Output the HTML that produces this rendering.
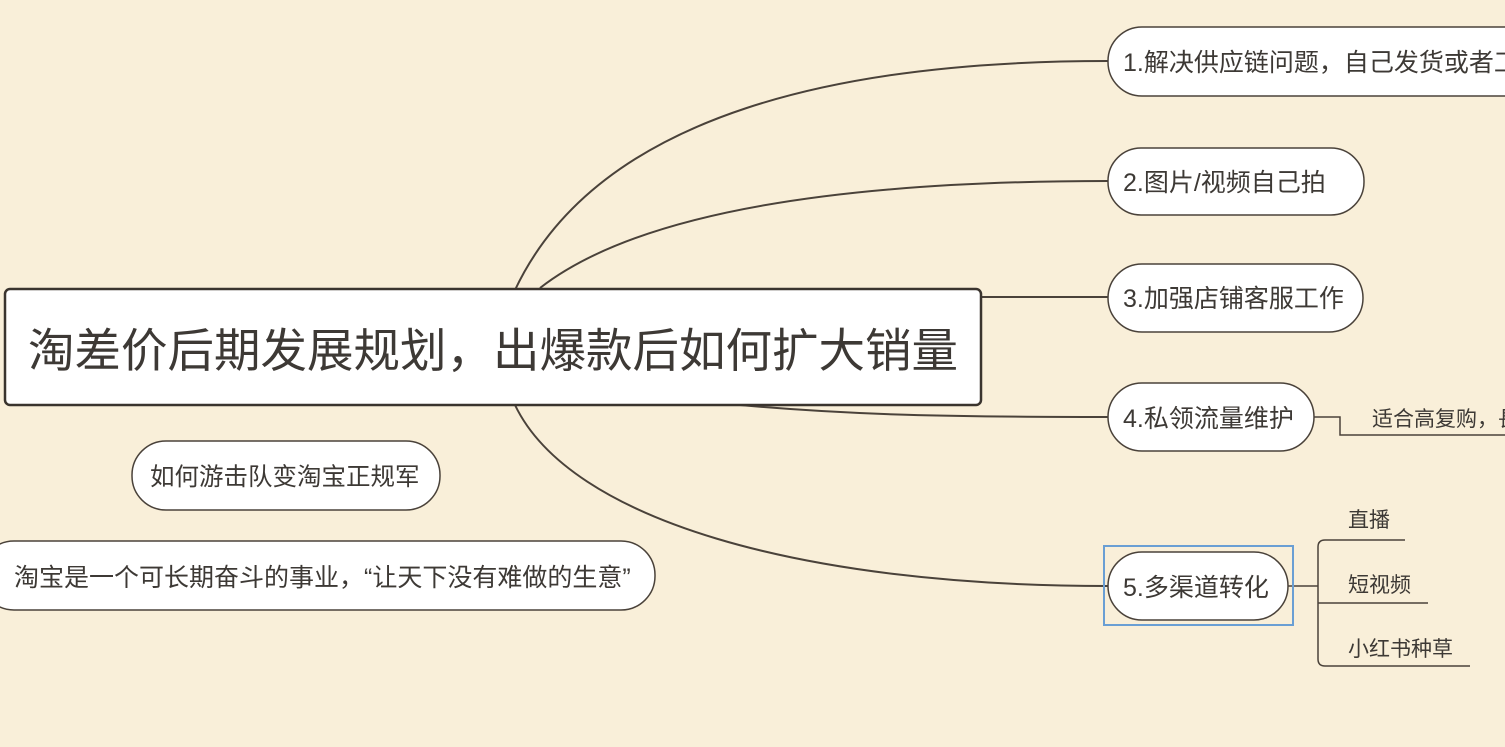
<!DOCTYPE html>
<html><head><meta charset="utf-8"><style>
html,body{margin:0;padding:0;background:#f9efd9;}
svg{display:block}
text{font-family:"Liberation Sans","Noto Sans CJK SC",sans-serif;fill:#3d3935}
</style></head><body>
<svg width="1505" height="747" viewBox="0 0 1505 747">
<rect width="1505" height="747" fill="#f9efd9"/>
<g fill="none" stroke="#4a423a" stroke-width="2">
<path d="M515 290 C600 110 850 61 1108 61"/>
<path d="M540 288 C640 210 850 181 1108 181"/>
<path d="M981 297 L1108 297"/>
<path d="M740 405 C850 415 950 417 1108 417"/>
<path d="M515 405 C570 520 800 586 1108 586"/>
<path d="M1314 417 H1340 V435 H1505" stroke-width="1.5"/>
<path d="M1288 586 H1318" stroke-width="1.5"/>
<path d="M1405 540 H1325 Q1318 540 1318 547 V659 Q1318 666 1325 666 H1470" stroke-width="1.5"/>
<path d="M1318 603 H1428" stroke-width="1.5"/>
</g>
<rect x="5" y="289" width="976" height="116" rx="5" fill="#fff" stroke="#3a342e" stroke-width="2.5"/>
<text x="493" y="367" font-size="46.5" text-anchor="middle">淘差价后期发展规划，出爆款后如何扩大销量</text>
<g fill="#fff" stroke="#4a423a" stroke-width="1.5">
<rect x="1108" y="27" width="460" height="69" rx="34"/>
<rect x="1108" y="148" width="256" height="67" rx="33"/>
<rect x="1108" y="264" width="255" height="68" rx="34"/>
<rect x="1108" y="383" width="206" height="68" rx="34"/>
<rect x="1108" y="552" width="180" height="68" rx="34"/>
<rect x="132" y="441" width="308" height="69" rx="34"/>
<rect x="-20" y="541" width="675" height="69" rx="34"/>
</g>
<rect x="1104" y="546" width="189" height="79" fill="none" stroke="#6a9fd4" stroke-width="2"/>
<g font-size="25">
<text x="1123" y="71">1.解决供应链问题，自己发货或者工厂</text>
<text x="1123" y="191">2.图片/视频自己拍</text>
<text x="1123" y="307">3.加强店铺客服工作</text>
<text x="1123" y="427">4.私领流量维护</text>
<text x="1123" y="596">5.多渠道转化</text>
</g>
<g font-size="24.5">
<text x="150" y="485">如何游击队变淘宝正规军</text>
</g>
<g font-size="25">
<text x="14" y="586">淘宝是一个可长期奋斗的事业，“让天下没有难做的生意”</text>
</g>
<g font-size="21">
<text x="1372" y="426">适合高复购，長</text>
<text x="1348" y="527">直播</text>
<text x="1348" y="592">短视频</text>
<text x="1348" y="656">小红书种草</text>
</g>
</svg>
</body></html>
